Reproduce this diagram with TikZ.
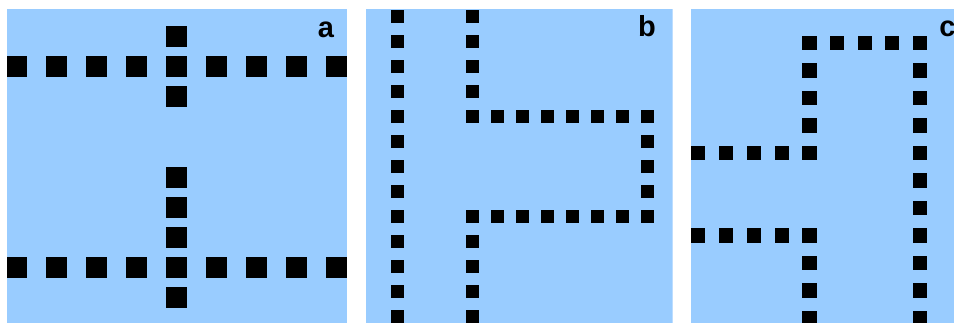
\documentclass[tikz,border=0pt]{standalone}
\usepackage{fontspec}
\setmainfont{Liberation Sans}
\definecolor{panelblue}{HTML}{99CCFF}
\begin{document}
\begin{tikzpicture}[x=1pt,y=-1pt,
  panel/.style={fill=panelblue},
  lbl/.style={anchor=base,inner sep=0pt,font=\fontsize{29}{29}\selectfont\bfseries}]
\useasboundingbox (0,0) rectangle (954,323);
\fill[white] (0,0) rectangle (954,323);
% ---------- panel a ----------
\begin{scope}
\clip (7,9) rectangle (347,323);
\fill[panel] (7,9) rectangle (347,323);
\def\hs{10.5}
\foreach \x in {16.5,56.5,...,336.5} {
  \fill (\x-\hs,66.5-\hs) rectangle (\x+\hs,66.5+\hs);
  \fill (\x-\hs,267.5-\hs) rectangle (\x+\hs,267.5+\hs);
}
\foreach \y in {36.5,96.5,177.5,207.5,237.5,297.5}
  \fill (176.5-\hs,\y-\hs) rectangle (176.5+\hs,\y+\hs);
\end{scope}
\node[lbl] (la) at (326,38) {a};
% ---------- panel b ----------
\begin{scope}
\clip (366,9) rectangle (672.7,323);
\fill[panel] (366,9) rectangle (672.7,323);
\def\hs{6.75}
\foreach \y in {16.5,41.5,...,316.5}
  \fill (397.5-\hs,\y-\hs) rectangle (397.5+\hs,\y+\hs);
\foreach \y in {16.5,41.5,66.5,91.5,116.5,216.5,241.5,266.5,291.5,316.5}
  \fill (472.5-\hs,\y-\hs) rectangle (472.5+\hs,\y+\hs);
\foreach \x in {497.5,522.5,...,647.5} {
  \fill (\x-\hs,116.5-\hs) rectangle (\x+\hs,116.5+\hs);
  \fill (\x-\hs,216.5-\hs) rectangle (\x+\hs,216.5+\hs);
}
\foreach \y in {141.5,166.5,191.5}
  \fill (647.5-\hs,\y-\hs) rectangle (647.5+\hs,\y+\hs);
\end{scope}
\node[lbl] (lb) at (647,37) {b};
% ---------- panel c ----------
\begin{scope}
\clip (690.7,9) rectangle (954,323);
\fill[panel] (690.7,9) rectangle (954,323);
\def\hs{7.1}
\foreach \x in {809.5,837.1,864.7,892.3,919.7}
  \fill (\x-\hs,43-\hs) rectangle (\x+\hs,43+\hs);
\foreach \y in {70.5,98,125.5,153,180.5,208,235.5,263,290.5,318}
  \fill (919.7-\hs,\y-\hs) rectangle (919.7+\hs,\y+\hs);
\foreach \y in {70.5,98,125.5,263,290.5,318}
  \fill (809.5-\hs,\y-\hs) rectangle (809.5+\hs,\y+\hs);
\foreach \x in {698,726,753.8,781.6,809.5} {
  \fill (\x-\hs,153-\hs) rectangle (\x+\hs,153+\hs);
  \fill (\x-\hs,235.5-\hs) rectangle (\x+\hs,235.5+\hs);
}
\end{scope}
\begin{scope}
\clip (0,0) rectangle (954,323);
\node[lbl] (lc) at (947.5,37) {c};
\end{scope}
\end{tikzpicture}
\end{document}
